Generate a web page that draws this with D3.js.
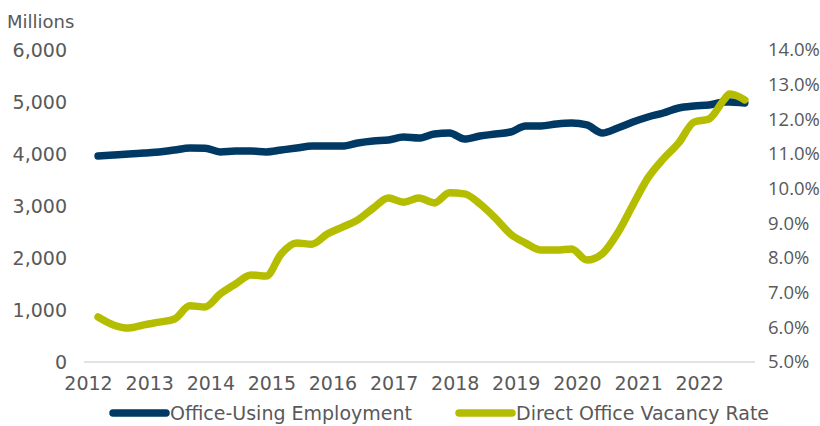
<!DOCTYPE html>
<html>
<head>
<meta charset="utf-8">
<script src="https://cdn.jsdelivr.net/npm/d3@7"></script>
<style>
  body { margin: 0; background: #fff; }
  text { font-family: "DejaVu Sans", sans-serif; fill: #595959; }
</style>
</head>
<body>
<svg width="820" height="426"></svg>
<script>
// quarterly readings, plus a couple of extra points in 2022
const months = [
  '2012-03', '2012-06', '2012-09', '2012-12',
  '2013-03', '2013-06', '2013-09', '2013-12',
  '2014-03', '2014-06', '2014-09', '2014-12',
  '2015-03', '2015-06', '2015-09', '2015-12',
  '2016-03', '2016-06', '2016-09', '2016-12',
  '2017-03', '2017-06', '2017-09', '2017-12',
  '2018-03', '2018-06', '2018-09', '2018-12',
  '2019-03', '2019-06', '2019-09', '2019-12',
  '2020-03', '2020-06', '2020-09', '2020-12',
  '2021-03', '2021-06', '2021-09', '2021-12',
  '2022-03', '2022-06', '2022-07', '2022-09', '2022-10',
]

// Office-Using Employment (millions, left axis)
const employment = [
  3962, 3981, 4000, 4019,
  4038, 4077, 4115, 4112,
  4040, 4058, 4058, 4040,
  4077, 4115, 4154, 4154,
  4154, 4212, 4250, 4269,
  4327, 4308, 4385, 4404,
  4288, 4346, 4385, 4423,
  4538, 4538, 4577, 4596,
  4558, 4404, 4500, 4615,
  4712, 4788, 4885, 4923,
  4942, 5000, 5000, 4990, 4981,
]

// Direct Office Vacancy Rate (%, right axis)
const vacancy = [
  6.30, 6.07, 5.98, 6.07,
  6.15, 6.24, 6.62, 6.59,
  6.96, 7.25, 7.51, 7.48,
  8.12, 8.43, 8.40, 8.69,
  8.89, 9.10, 9.44, 9.73,
  9.61, 9.73, 9.59, 9.88,
  9.85, 9.56, 9.15, 8.69,
  8.43, 8.23, 8.23, 8.26,
  7.94, 8.12, 8.72, 9.53,
  10.31, 10.86, 11.32, 11.92,
  12.01, 12.58, 12.73, 12.64, 12.56,
]

const years = [2012, 2013, 2014, 2015, 2016, 2017, 2018, 2019, 2020, 2021, 2022]
const leftTicks = [0, 1000, 2000, 3000, 4000, 5000, 6000]
const rightTicks = [5, 6, 7, 8, 9, 10, 11, 12, 13, 14]

const navy = '#003963'
const olive = '#b5bd00'

const svg = d3.select('svg')
const parse = d3.timeParse('%Y-%m')
const dates = months.map(parse)

const x = d3.scaleTime()
  .domain([new Date(2011, 11, 8), new Date(2022, 11, 1)])
  .range([84, 755])
const yLeft = d3.scaleLinear().domain([0, 6000]).range([362, 50])
const yRight = d3.scaleLinear().domain([5, 14]).range([362, 50])

// baseline
svg.append('line')
  .attr('x1', x.range()[0]).attr('x2', x.range()[1])
  .attr('y1', yLeft(0)).attr('y2', yLeft(0))
  .attr('stroke', '#d9d9d9')
  .attr('stroke-width', 1.5)

const styleAxis = (size, family) => (g) => {
  g.select('.domain').remove()
  g.selectAll('text')
    .style('font-size', size)
    .style('font-family', family)
    .attr('fill', '#595959')
}

svg.append('g')
  .attr('transform', `translate(${x.range()[0]},0)`)
  .call(d3.axisLeft(yLeft).tickValues(leftTicks).tickSize(0).tickPadding(17)
    .tickFormat(d3.format(',')))
  .call(styleAxis('19px', '"DejaVu Sans"'))

// narrower face on the right so the percent labels fit the frame
svg.append('g')
  .attr('transform', `translate(${x.range()[1]},0)`)
  .call(d3.axisRight(yRight).tickValues(rightTicks).tickSize(0).tickPadding(13)
    .tickFormat((d) => d3.format('.1f')(d) + '%'))
  .call(styleAxis('18.5px', '"Open Sans"'))

svg.append('g')
  .attr('transform', `translate(0,${yLeft(0)})`)
  .call(d3.axisBottom(x).tickValues(years.map((yr) => new Date(yr, 0, 1)))
    .tickSize(0).tickPadding(15).tickFormat(d3.timeFormat('%Y')))
  .call(styleAxis('19px', '"DejaVu Sans"'))

svg.append('text')
  .attr('x', 7).attr('y', 28)
  .style('font-size', '18px')
  .text('Millions')

const lineLeft = d3.line()
  .x((d, i) => x(dates[i]))
  .y((d) => yLeft(d))
  .curve(d3.curveMonotoneX)

const lineRight = d3.line()
  .x((d, i) => x(dates[i]))
  .y((d) => yRight(d))
  .curve(d3.curveMonotoneX)

svg.append('path')
  .attr('d', lineLeft(employment))
  .attr('fill', 'none')
  .attr('stroke', navy)
  .attr('stroke-width', 7.5)
  .attr('stroke-linecap', 'round')
  .attr('stroke-linejoin', 'round')

svg.append('path')
  .attr('d', lineRight(vacancy))
  .attr('fill', 'none')
  .attr('stroke', olive)
  .attr('stroke-width', 7.5)
  .attr('stroke-linecap', 'round')
  .attr('stroke-linejoin', 'round')

// legend
const legend = [
  { name: 'Office-Using Employment', color: navy, x: 113 },
  { name: 'Direct Office Vacancy Rate', color: olive, x: 459 },
]
const items = svg.selectAll('.legend')
  .data(legend)
  .join('g')
  .attr('class', 'legend')
  .attr('transform', (d) => `translate(${d.x},413)`)

items.append('line')
  .attr('x1', 0).attr('x2', 53)
  .attr('stroke', (d) => d.color)
  .attr('stroke-width', 7.5)
  .attr('stroke-linecap', 'round')

items.append('text')
  .attr('x', 57)
  .attr('dy', '0.36em')
  .style('font-size', '19px')
  .text((d) => d.name)
</script>
</body>
</html>
